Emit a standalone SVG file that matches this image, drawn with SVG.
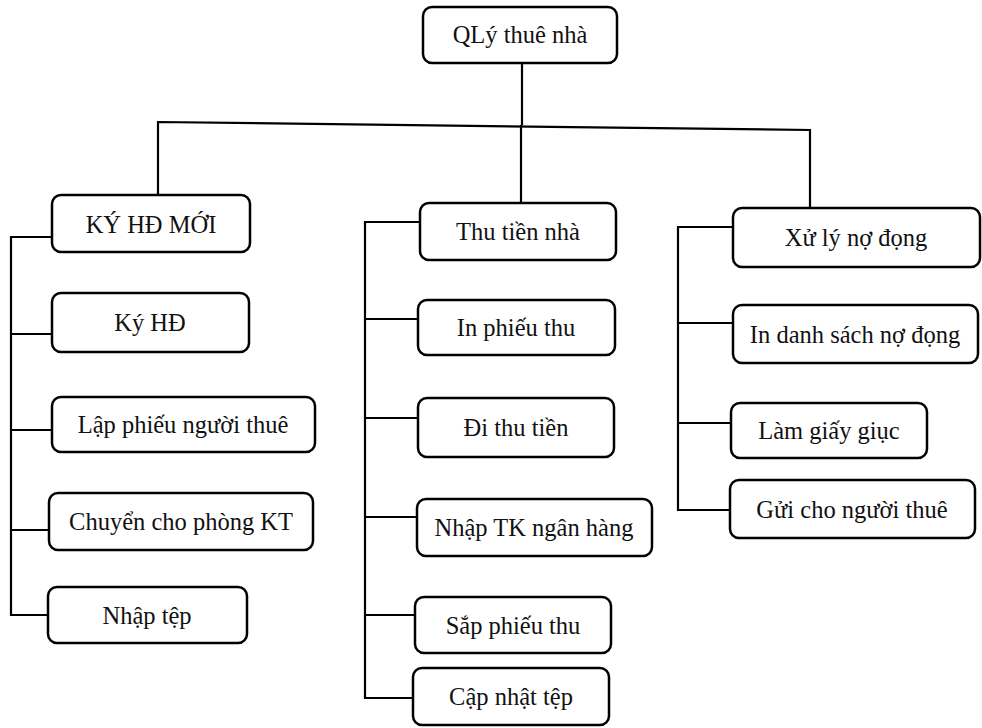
<svg xmlns="http://www.w3.org/2000/svg" width="982" height="728" viewBox="0 0 982 728">
  <style>
    .box { fill: #ffffff; stroke: #000000; stroke-width: 2.5; }
    .lbl { font-family: "Liberation Serif", "Times New Roman", serif; font-size: 24.5px; fill: #111111; text-anchor: middle; }
    .wire { fill: none; stroke: #000000; stroke-width: 2.2; }
  </style>
  <rect width="982" height="728" fill="#ffffff"/>

  <!-- connectors -->
  <g id="connectors" class="wire">
    <path d="M522,63 L522,125"/>
    <path d="M158,195 L158,122 L810,130 L810,208"/>
    <path d="M521,125 L521,203"/>
    <!-- left branch -->
    <path d="M52,237 L11,237 L11,615 L48,615"/>
    <path d="M11,334 L52,334"/>
    <path d="M11,430 L52,430"/>
    <path d="M11,530 L49,530"/>
    <!-- middle branch -->
    <path d="M420,222 L365,222 L365,698 L413,698"/>
    <path d="M365,319 L418,319"/>
    <path d="M365,418 L418,418"/>
    <path d="M365,517 L417,517"/>
    <path d="M365,615 L415,615"/>
    <!-- right branch -->
    <path d="M733,227 L678,227 L678,510 L730,510"/>
    <path d="M678,323 L733,323"/>
    <path d="M678,423 L731,423"/>
  </g>

  <g id="root">
    <rect class="box" x="423" y="7" width="194" height="56" rx="9"/>
    <text class="lbl" x="520" y="43">QLý thuê nhà</text>
  </g>

  <g id="ky-hd-moi">
    <rect class="box" x="52" y="195" width="198" height="57" rx="9"/>
    <text class="lbl" x="151" y="233">KÝ HĐ MỚI</text>
  </g>
  <g id="ky-hd">
    <rect class="box" x="52" y="293" width="197" height="59" rx="9"/>
    <text class="lbl" x="150" y="331">Ký HĐ</text>
  </g>
  <g id="lap-phieu">
    <rect class="box" x="52" y="397" width="263" height="55" rx="9"/>
    <text class="lbl" x="183" y="433">Lập phiếu người thuê</text>
  </g>
  <g id="chuyen-kt">
    <rect class="box" x="49" y="493" width="264" height="57" rx="9"/>
    <text class="lbl" x="181" y="530">Chuyển cho phòng KT</text>
  </g>
  <g id="nhap-tep">
    <rect class="box" x="48" y="587" width="199" height="56" rx="9"/>
    <text class="lbl" x="147" y="624">Nhập tệp</text>
  </g>

  <g id="thu-tien-nha">
    <rect class="box" x="420" y="203" width="196" height="57" rx="9"/>
    <text class="lbl" x="518" y="240">Thu tiền nhà</text>
  </g>
  <g id="in-phieu-thu">
    <rect class="box" x="418" y="300" width="197" height="55" rx="9"/>
    <text class="lbl" x="516" y="336">In phiếu thu</text>
  </g>
  <g id="di-thu-tien">
    <rect class="box" x="418" y="398" width="196" height="59" rx="9"/>
    <text class="lbl" x="516" y="436">Đi thu tiền</text>
  </g>
  <g id="nhap-tk">
    <rect class="box" x="417" y="499" width="235" height="57" rx="9"/>
    <text class="lbl" x="534" y="536">Nhập TK ngân hàng</text>
  </g>
  <g id="sap-phieu-thu">
    <rect class="box" x="415" y="597" width="196" height="56" rx="9"/>
    <text class="lbl" x="513" y="634">Sắp phiếu thu</text>
  </g>
  <g id="cap-nhat-tep">
    <rect class="box" x="413" y="668" width="196" height="57" rx="9"/>
    <text class="lbl" x="511" y="705">Cập nhật tệp</text>
  </g>

  <g id="xu-ly-no">
    <rect class="box" x="733" y="208" width="247" height="59" rx="9"/>
    <text class="lbl" x="856" y="246">Xử lý nợ đọng</text>
  </g>
  <g id="in-danh-sach">
    <rect class="box" x="733" y="305" width="245" height="58" rx="9"/>
    <text class="lbl" x="855" y="343">In danh sách nợ đọng</text>
  </g>
  <g id="lam-giay-giuc">
    <rect class="box" x="731" y="403" width="196" height="55" rx="9"/>
    <text class="lbl" x="829" y="439">Làm giấy giục</text>
  </g>
  <g id="gui-nguoi-thue">
    <rect class="box" x="730" y="480" width="245" height="58" rx="9"/>
    <text class="lbl" x="852" y="518">Gửi cho người thuê</text>
  </g>
</svg>
